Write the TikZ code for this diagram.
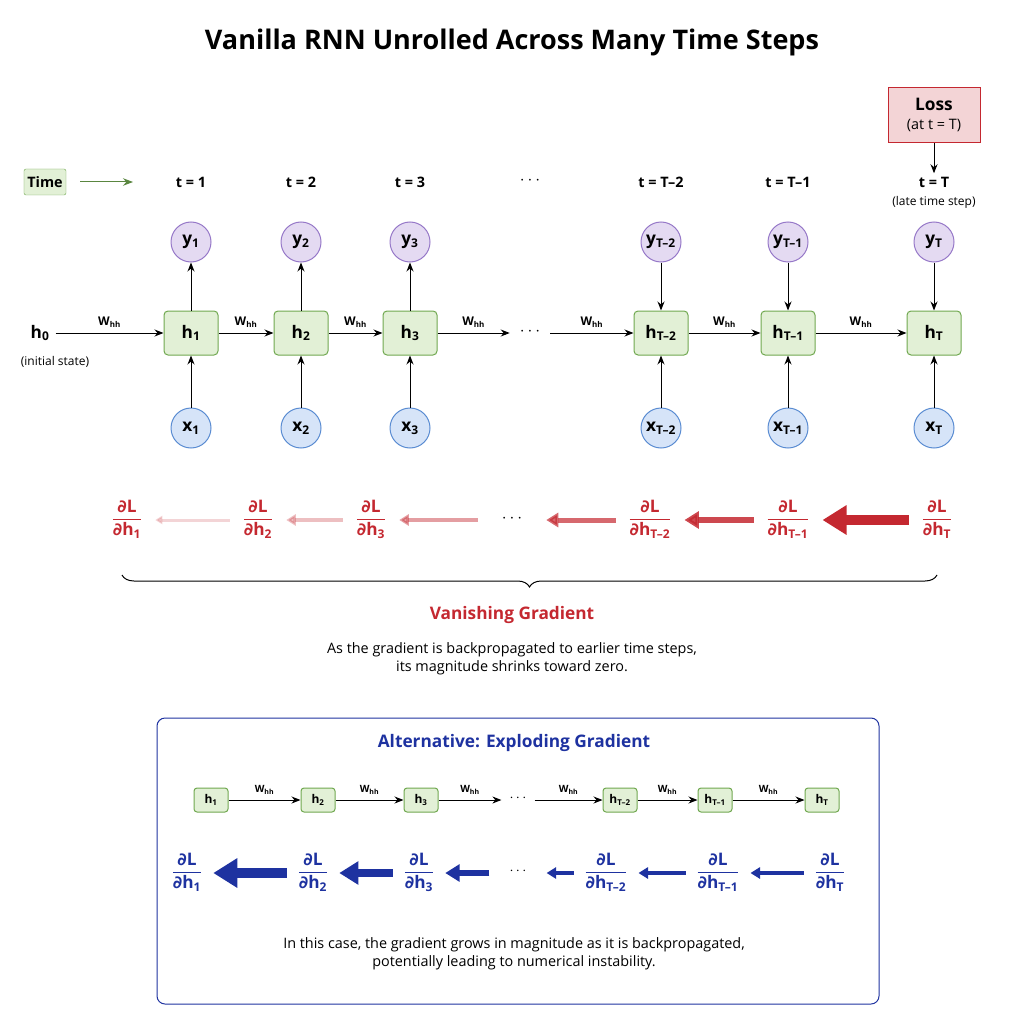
\documentclass[tikz,border=0pt]{standalone}
\usepackage{fontspec}
\setmainfont{Open Sans}
\newfontfamily\dejavu{DejaVu Sans}
\usetikzlibrary{arrows.meta,positioning,decorations.pathreplacing}
\definecolor{hfill}{RGB}{226,240,214}
\definecolor{hdraw}{RGB}{112,168,80}
\definecolor{yfill}{RGB}{228,218,242}
\definecolor{ydraw}{RGB}{150,120,200}
\definecolor{xfill}{RGB}{214,228,248}
\definecolor{xdraw}{RGB}{90,140,210}
\definecolor{gred}{RGB}{196,40,48}
\definecolor{gblue}{RGB}{30,50,160}
\newcommand{\gfrac}[1]{\begin{tabular}{@{}c@{}}{\dejavu ∂}L\\[-1pt]\hline\rule{0pt}{17pt}{\dejavu ∂}h\textsubscript{#1}\end{tabular}}
\begin{document}
\begin{tikzpicture}[x=1pt,y=-1pt,
  hbox/.style={draw=hdraw,fill=hfill,rounded corners=4pt,minimum width=54pt,minimum height=44pt,font=\LARGE\bfseries,line width=1pt},
  sbox/.style={draw=hdraw,fill=hfill,rounded corners=3pt,minimum width=34pt,minimum height=24pt,font=\large\bfseries,line width=1pt},
  ycirc/.style={circle,draw=ydraw,fill=yfill,minimum size=40pt,inner sep=0pt,font=\LARGE\bfseries,line width=1pt},
  xcirc/.style={circle,draw=xdraw,fill=xfill,minimum size=40pt,inner sep=0pt,font=\LARGE\bfseries,line width=1pt},
  arr/.style={-{Stealth[length=9pt,width=7pt]},line width=1pt},
  wlab/.style={font=\large\bfseries,above=2pt},
  grad/.style={font=\LARGE\bfseries,text=#1,inner sep=0pt}]
\useasboundingbox (0,0) rectangle (1024,1024);

% title
\node[font=\fontsize{27}{30}\selectfont\bfseries] (title) at (512,42) {Vanilla RNN Unrolled Across Many Time Steps};

% time axis
\node[draw=hdraw,fill=hfill,rounded corners=2pt,font=\Large\bfseries,minimum height=26pt] (time) at (45,182) {Time};
\coordinate (tend) at (133,182);
\draw[-{Stealth[length=10pt]},hdraw!80!black,line width=1pt] ([xshift=14pt]time.east) -- (tend);
\foreach \n/\x/\t in {1/191/t = 1,2/301/t = 2,3/410/t = 3,a/661/t = T–2,b/788/t = T–1,c/934/t = T}
  \node[font=\Large\bfseries] (t\n) at (\x,182) {\t};
\node[font=\LARGE] (tdots) at (530,182) {\raisebox{3pt}{$\cdots$}};
\node[font=\large] (late) at (934,202) {(late time step)};
\node[draw=gred,fill=gred!20,minimum width=92pt,minimum height=55pt,align=center,font=\LARGE\bfseries,line width=1pt] (loss) at (934,115) {Loss\\[-3pt]{\Large\mdseries(at t = T)}};
\draw[arr] (loss) -- (tc);

% unrolled cells
\foreach \n/\x/\s in {1/191/1,2/301/2,3/410/3,a/661/T–2,b/788/T–1,c/934/T} {
  \node[ycirc] (y\n) at (\x,242) {y\textsubscript{\s}};
  \node[hbox] (h\n) at (\x,333) {h\textsubscript{\s}};
  \node[xcirc] (x\n) at (\x,428) {x\textsubscript{\s}};
  \draw[arr] (x\n) -- (h\n);
}
\foreach \n in {1,2,3} \draw[arr] (h\n) -- (y\n);
\foreach \n in {a,b,c} \draw[arr] (y\n) -- (h\n);
\node[font=\LARGE\bfseries,inner sep=6pt] (h0) at (40,333) {h\textsubscript{0}};
\node[font=\large] (init) at (55,362) {(initial state)};
\node[font=\LARGE,inner sep=10pt] (hdots) at (530,333) {\raisebox{3pt}{$\cdots$}};
\foreach \a/\b in {h0/h1,h1/h2,h2/h3,h3/hdots,hdots/ha,ha/hb,hb/hc}
  \draw[arr] (\a) -- node[wlab] {W\textsubscript{hh}} (\b);

% vanishing gradients
\foreach \n/\x/\s in {1/127/1,2/258/2,3/371/3,a/650/T–2,b/788/T–1,c/937/T}
  \node[grad=gred] (g\n) at (\x,520) {\gfrac{\s}};
\node[font=\LARGE,inner sep=10pt] (gdots) at (512,520) {\raisebox{3pt}{$\cdots$}};
\foreach \a/\b/\o/\w in {g2/g1/20/3,g3/g2/30/4,gdots/g3/45/4,ga/gdots/70/5,gb/ga/85/6,gc/gb/100/10}
  \draw[-{Triangle[length=2.4*\w pt,width=2.8*\w pt]},gred,opacity=\o/100,line width=\w pt,shorten <=14pt,shorten >=14pt] (\a) -- (\b);
\coordinate (bl) at (122,575);
\coordinate (br) at (937,575);
\draw[decorate,decoration={brace,mirror,amplitude=12pt},line width=1pt] (bl) -- (br);
\node[font=\LARGE\bfseries,text=gred] (van) at (512,615) {Vanishing Gradient};
\node[font=\Large,align=center] (vtext) at (512,659) {As the gradient is backpropagated to earlier time steps,\\its magnitude shrinks toward zero.};

% exploding panel
\draw[draw=gblue,rounded corners=8pt,line width=1pt] (157,718) rectangle (879,1004);
\node[font=\LARGE\bfseries,text=gblue] (alt) at (514,743) {Alternative: Exploding Gradient};
\foreach \n/\x/\s in {1/211/1,2/318/2,3/421/3,a/620/T–2,b/715/T–1,c/822/T}
  \node[sbox] (s\n) at (\x,800) {h\textsubscript{\s}};
\node[font=\Large,inner sep=8pt] (sdots) at (518,800) {\raisebox{3pt}{$\cdots$}};
\foreach \a/\b in {s1/s2,s2/s3,s3/sdots,sdots/sa,sa/sb,sb/sc}
  \draw[arr] (\a) -- node[wlab,font=\normalsize\bfseries] {W\textsubscript{hh}} (\b);
\foreach \n/\x/\s in {1/187/1,2/313/2,3/419/3,a/606/T–2,b/718/T–1,c/830/T}
  \node[grad=gblue] (e\n) at (\x,873) {\gfrac{\s}};
\node[font=\Large,inner sep=8pt] (edots) at (518,873) {\raisebox{3pt}{$\cdots$}};
\foreach \a/\b/\w in {e2/e1/10,e3/e2/8,edots/e3/6,ea/edots/4,eb/ea/4,ec/eb/4}
  \draw[-{Triangle[length=2.4*\w pt,width=2.8*\w pt]},gblue,line width=\w pt,shorten <=12pt,shorten >=12pt] (\a) -- (\b);
\node[font=\Large,align=center] (etext) at (514,954) {In this case, the gradient grows in magnitude as it is backpropagated,\\potentially leading to numerical instability.};
\end{tikzpicture}
\end{document}
